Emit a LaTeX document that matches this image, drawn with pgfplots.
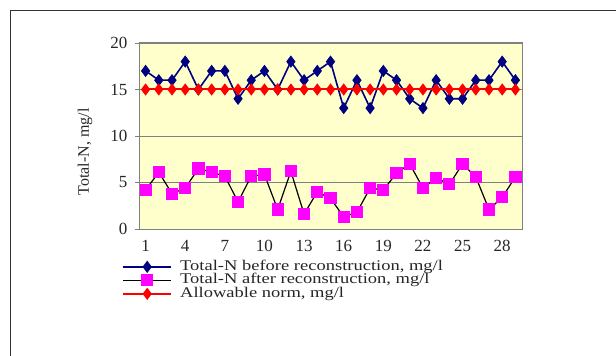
\documentclass[border=0pt]{standalone}
\usepackage{pgfplots}
\pgfplotsset{compat=1.18}
\usepackage{fontspec}
\setmainfont{Liberation Serif}
\newfontfamily\legfont[FakeStretch=1.25]{Liberation Serif}
\definecolor{bgyellow}{RGB}{255,255,204}
\definecolor{navyb}{RGB}{0,0,128}
\definecolor{magp}{RGB}{255,0,255}
\definecolor{gridg}{RGB}{128,128,128}
\begin{document}
\begin{tikzpicture}
\useasboundingbox (0bp,0bp) rectangle (616bp,356bp);
\draw[black!80, line width=1.5bp] (10.5bp,-5bp) -- (10.5bp,345.5bp) -- (625bp,345.5bp);
\begin{axis}[
  at={(139bp,127bp)}, anchor=south west,
  scale only axis, width=383bp, height=186bp,
  xmin=0.5, xmax=29.5, ymin=0, ymax=20,
  xtick={1,4,...,28},
  minor xtick={0.5,1.5,...,29.5},
  ytick={0,5,...,20},
  ymajorgrids, grid style={gridg, line width=0.8bp},
  axis background/.style={fill=bgyellow},
  axis line style={gridg, line width=1bp},
  tick align=outside,
  major tick length=4bp, minor tick length=4bp,
  xtick style={draw=none},
  minor tick style={gridg, line width=0.8bp},
  ytick style={gridg, line width=0.8bp},
  xtick pos=bottom, ytick pos=left,
  /pgf/number format/assume math mode=true,
  tick label style={font=\fontsize{17bp}{20bp}\selectfont, text=black!85},
  yticklabel style={xshift=-4bp},
  xticklabel style={yshift=-4bp},
  ylabel={Total-N, mg/l},
  every axis y label/.style={at={(axis description cs:-0.141,0.414)}, rotate=90, anchor=center, font=\fontsize{16bp}{18bp}\selectfont, text=black!85},
  legend style={at={(axis description cs:-0.0444,-0.166)}, anchor=north west, draw=none, fill=none, inner sep=0bp,
    nodes={inner sep=0bp, text height=10bp, text depth=3.5bp, anchor=west},
    column sep=8bp, row sep=0bp,
    font=\legfont\fontsize{14.8bp}{16bp}\selectfont, text=black!85},
  legend cell align=left,
  legend image code/.code={
    \draw[mark repeat=2,mark phase=2,#1] plot coordinates {(0bp,0bp) (24bp,0bp) (48bp,0bp)};
  },
]
\addplot[navyb, line width=1.6bp, mark=diamond*, mark size=5.5bp, mark options={fill=navyb, draw=navyb, line width=0.8bp}]
  coordinates {(1,17)(2,16)(3,16)(4,18)(5,15)(6,17)(7,17)(8,14)(9,16)(10,17)(11,15)(12,18)(13,16)(14,17)(15,18)(16,13)(17,16)(18,13)(19,17)(20,16)(21,14)(22,13)(23,16)(24,14)(25,14)(26,16)(27,16)(28,18)(29,16)};
\addlegendentry{Total-N before reconstruction, mg/l}
\addplot[black, line width=1.2bp, mark=square*, mark size=5.5bp, mark options={fill=magp, draw=magp}]
  coordinates {(1,4.2)(2,6.1)(3,3.8)(4,4.4)(5,6.5)(6,6.1)(7,5.7)(8,2.9)(9,5.7)(10,5.85)(11,2.1)(12,6.2)(13,1.6)(14,4.0)(15,3.3)(16,1.3)(17,1.8)(18,4.4)(19,4.2)(20,6.0)(21,7.0)(22,4.4)(23,5.5)(24,4.8)(25,7.0)(26,5.6)(27,2.1)(28,3.4)(29,5.6)};
\addlegendentry{Total-N after reconstruction, mg/l}
\addplot[red, line width=2bp, mark=diamond*, mark size=4.5bp, mark options={fill=red, draw=red}]
  coordinates {(1,15)(2,15)(3,15)(4,15)(5,15)(6,15)(7,15)(8,15)(9,15)(10,15)(11,15)(12,15)(13,15)(14,15)(15,15)(16,15)(17,15)(18,15)(19,15)(20,15)(21,15)(22,15)(23,15)(24,15)(25,15)(26,15)(27,15)(28,15)(29,15)};
\addlegendentry{Allowable norm, mg/l}
\end{axis}
\end{tikzpicture}
\end{document}
